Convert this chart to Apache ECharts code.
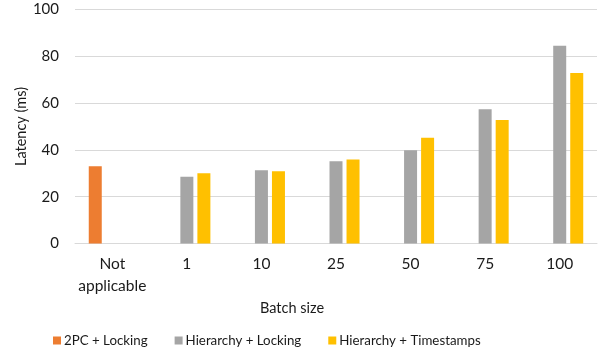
<!DOCTYPE html>
<html><head><meta charset="utf-8">
<script src="https://cdn.jsdelivr.net/npm/echarts@6/dist/echarts.min.js"></script>
<style>html,body{margin:0;padding:0;background:#fff}#c{width:600px;height:356px}</style>
</head><body><div id="c"></div>
<script>
const categories = ['Not\napplicable', '1', '10', '25', '50', '75', '100'];
const seriesNames = ['2PC + Locking', 'Hierarchy + Locking', 'Hierarchy + Timestamps'];
const twoPcLocking = [33.0, null, null, null, null, null, null];
const hierLocking = [null, 28.5, 31.3, 35.2, 39.9, 57.4, 84.5];
const hierTimestamps = [null, 30.0, 30.9, 35.9, 45.2, 52.8, 72.9];
const yTicks = { min: 0, max: 100, interval: 20 };
const colors = ['#ED7D31', '#A5A5A5', '#FFC000'];
const font = 'Lato, "Liberation Sans", sans-serif';
const txt = '#1a1a1a';

const chart = echarts.init(document.getElementById('c'), null, { renderer: 'canvas' });
const values = [twoPcLocking, hierLocking, hierTimestamps];
chart.setOption({
  animation: false,
  textStyle: { fontFamily: font },
  grid: { left: 75, right: 3, top: 9.5, bottom: 112.5, containLabel: false },
  legend: {
    left: 53, top: 334, padding: 0, itemWidth: 8, itemHeight: 8, itemGap: 27,
    icon: 'rect',
    textStyle: { fontFamily: font, fontSize: 13.3, color: txt, padding: [0, 0, 0, -2] },
    data: seriesNames
  },
  xAxis: {
    type: 'category', data: categories,
    axisLine: { lineStyle: { color: '#d9d9d9', width: 1 } },
    axisTick: { show: false },
    axisLabel: { fontFamily: font, fontSize: 15.5, color: txt, margin: 9, lineHeight: 22, interval: 0 },
    name: 'Batch size', nameLocation: 'middle', nameGap: 57, nameMoveOverlap: false,
    nameTextStyle: { fontFamily: font, fontSize: 14.5, color: txt, padding: [0, 88, 0, 0] }
  },
  yAxis: {
    type: 'value', min: yTicks.min, max: yTicks.max, interval: yTicks.interval,
    axisLine: { show: false }, axisTick: { show: false },
    splitLine: { lineStyle: { color: '#d9d9d9', width: 1 } },
    axisLabel: { fontFamily: font, fontSize: 15, color: txt, margin: 16 },
    name: 'Latency (ms)', nameLocation: 'middle', nameGap: 46, nameMoveOverlap: false,
    nameTextStyle: { fontFamily: font, fontSize: 14.5, color: txt }
  },
  series: seriesNames.map((n, i) => ({
    name: n, type: 'bar', data: values[i], barWidth: 13, barGap: '31%',
    itemStyle: { color: colors[i] }
  }))
});
</script></body></html>
